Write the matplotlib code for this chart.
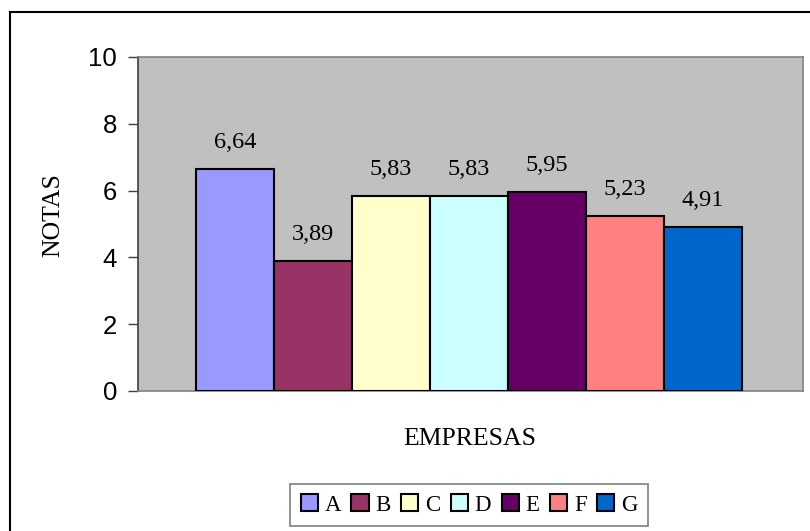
import matplotlib.pyplot as plt
from matplotlib.patches import Patch
from matplotlib.lines import Line2D

# Dados
empresas = ['A', 'B', 'C', 'D', 'E', 'F', 'G']
notas = [6.64, 3.89, 5.83, 5.83, 5.95, 5.23, 4.91]
cores = ['#9999FF', '#993366', '#FFFFCC', '#CCFFFF', '#660066', '#FF8080', '#0066CC']
yticks = [0, 2, 4, 6, 8, 10]

serif = 'Liberation Serif'
sans = 'Liberation Sans'

fig = plt.figure(figsize=(8.1, 5.31), dpi=100)
ax = fig.add_axes([138/810, 1 - 391/531, (803 - 138)/810, (391 - 57)/531])
ax.set_facecolor('#C0C0C0')

x = list(range(len(empresas)))
bars = ax.bar(x, notas, width=1.0, color=cores, edgecolor='black', linewidth=1.5, zorder=3)

# Rotulos de valor
for xi, v in zip(x, notas):
    ax.annotate(f'{v:.2f}'.replace('.', ','), (xi, v), xytext=(0, 19),
                textcoords='offset points', ha='center', va='center',
                fontsize=17.5, family=serif)

ax.set_xlim(-1.24, 7.28)
ax.set_ylim(0, 10)
ax.set_xticks([])
ax.set_yticks(yticks)
ax.set_yticklabels([str(t) for t in yticks], fontsize=18.5, family=sans)
ax.tick_params(axis='y', length=7, width=1, color='#404040', pad=8)

for s in ['top', 'right', 'bottom']:
    ax.spines[s].set_color('#808080')
    ax.spines[s].set_linewidth(1.2)
ax.spines['left'].set_color('#404040')
ax.spines['left'].set_linewidth(1.2)

fig.text(53/810, 1 - 215/531, 'NOTAS', rotation=90, ha='center', va='center',
         fontsize=18.5, family=serif)
fig.text(470/810, 1 - 439/531, 'EMPRESAS', ha='center', va='center',
         fontsize=18.5, family=serif)

# Legenda
handles = [Patch(facecolor=c, edgecolor='black', linewidth=1.5) for c in cores]
leg = fig.legend(handles, empresas, loc='upper center', ncol=7,
                 bbox_to_anchor=(469/810, 1 - 484/531),
                 prop={'family': serif, 'size': 16.5},
                 handlelength=0.75, handleheight=0.75, handletextpad=0.3,
                 columnspacing=0.45, borderpad=0.45, borderaxespad=0,
                 fancybox=False, frameon=True)
leg.get_frame().set_edgecolor('#606060')
leg.get_frame().set_linewidth(1.2)

# Borda externa do grafico
fig.add_artist(Line2D([10/810, 10/810], [0, 1 - 12/531], transform=fig.transFigure,
                      color='black', linewidth=1.5))
fig.add_artist(Line2D([10/810, 1], [1 - 12/531, 1 - 12/531], transform=fig.transFigure,
                      color='black', linewidth=1.5))

plt.savefig('out.png', dpi=100)
